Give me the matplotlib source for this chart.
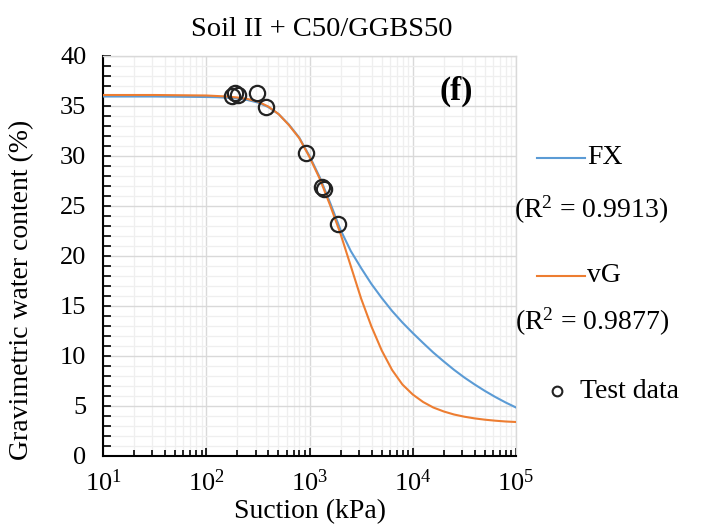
import matplotlib
matplotlib.use("Agg")
import matplotlib.pyplot as plt
from matplotlib.lines import Line2D
from matplotlib.ticker import LogLocator, MultipleLocator, NullFormatter

plt.rcParams['font.family'] = ['Liberation Serif', 'DejaVu Serif']
plt.rcParams['mathtext.fontset'] = 'custom'
plt.rcParams['mathtext.rm'] = 'Liberation Serif'
plt.rcParams['mathtext.it'] = 'Liberation Serif:italic'
plt.rcParams['mathtext.bf'] = 'Liberation Serif:bold'

# ---- data ----
title = "Soil II + C50/GGBS50"
xlabel = "Suction (kPa)"
ylabel = "Gravimetric water content (%)"

curve_suction = [10, 31.6, 100, 126, 158, 200, 251, 316, 398, 501, 631, 794,
                 1000, 1260, 1580, 2000, 2510, 3160, 3980, 5010, 6310, 7940,
                 10000, 12600, 15800, 20000, 25100, 31600, 39800, 50100,
                 63100, 79400, 100000]
vg_values = [36.1, 36.1, 36.05, 36.0, 35.95, 35.85, 35.7, 35.45, 34.95, 34.2,
             33.1, 31.8, 29.9, 27.7, 25.1, 22.2, 19.0, 15.75, 12.95, 10.55,
             8.6, 7.15, 6.15, 5.4, 4.85, 4.45, 4.15, 3.93, 3.76, 3.63, 3.53,
             3.45, 3.4]
fx_values = [35.95, 35.95, 35.9, 35.88, 35.83, 35.75, 35.6, 35.35, 34.9, 34.2,
             33.15, 31.85, 30.0, 27.85, 25.35, 22.6, 20.5, 18.8, 17.2, 15.8,
             14.5, 13.35, 12.3, 11.3, 10.35, 9.45, 8.62, 7.85, 7.15, 6.5,
             5.9, 5.35, 4.85]

test_suction = [179, 191, 205, 313, 383, 933, 1320, 1370, 1900]
test_water = [36.0, 36.3, 36.1, 36.3, 34.9, 30.3, 26.9, 26.7, 23.2]

fx_label = "FX"
fx_r2 = "(R$^{2}$ = 0.9913)"
vg_label = "vG"
vg_r2 = "(R$^{2}$ = 0.9877)"
test_label = "Test data"
panel_label = "(f)"

blue = "#5B9BD5"
orange = "#ED7D31"

W, H = 708, 527
fig = plt.figure(figsize=(W / 100, H / 100), dpi=100)

L, R, T, B = 103, 516, 56, 456
ax = fig.add_axes([L / W, 1 - B / H, (R - L) / W, (B - T) / H])

ax.set_xscale('log')
ax.set_xlim(10, 1e5)
ax.set_ylim(0, 40)

ax.plot(curve_suction, fx_values, color=blue, lw=1.5, zorder=3)
ax.plot(curve_suction, vg_values, color=orange, lw=1.5, zorder=4)
ax.plot(test_suction, test_water, linestyle='none', marker='o', ms=11,
        mfc='none', mec='#222222', mew=1.6, zorder=5)

# ticks & grid
ax.xaxis.set_major_locator(LogLocator(base=10, numticks=10))
ax.xaxis.set_minor_locator(LogLocator(base=10, subs=range(2, 10), numticks=20))
ax.xaxis.set_minor_formatter(NullFormatter())
ax.yaxis.set_major_locator(MultipleLocator(5))
ax.yaxis.set_minor_locator(MultipleLocator(1))

ax.grid(which='major', color='#d9d9d9', lw=1.0, zorder=0)
ax.grid(which='minor', color='#efefef', lw=0.9, zorder=0)
ax.set_axisbelow(True)

ax.tick_params(which='both', direction='in', colors='black', width=1.2,
               labelsize=19, top=False, right=False)
ax.tick_params(which='major', length=6, pad=10)
ax.tick_params(axis='y', which='minor', length=6)
ax.tick_params(axis='x', which='minor', length=4)
ax.tick_params(axis='y', which='major', pad=12)

for s in ['left', 'bottom']:
    ax.spines[s].set_color('black')
    ax.spines[s].set_linewidth(1.5)
for s in ['top', 'right']:
    ax.spines[s].set_color('#d9d9d9')
    ax.spines[s].set_linewidth(1.0)

ax.text(0.855, 0.9125, panel_label, transform=ax.transAxes, fontsize=24,
        fontweight='bold', ha='center', va='center')

# titles / labels
fig.text(322 / W, 1 - 30 / H, title, ha='center', va='center', fontsize=20.5)
fig.text(310 / W, 1 - 512 / H, xlabel, ha='center', va='center', fontsize=20)
fig.text(22 / W, 1 - 290 / H, ylabel, ha='center', va='center', fontsize=20,
         rotation=90)

# legend (drawn manually to the right of the plot)
def fx_(px):
    return px / W

def fy_(py):
    return 1 - py / H

fig.add_artist(Line2D([fx_(537), fx_(585)], [fy_(158), fy_(158)], color=blue, lw=1.5))
fig.text(fx_(587), fy_(158), fx_label, ha='left', va='center', fontsize=20)
fig.text(fx_(591), fy_(210), fx_r2, ha='center', va='center', fontsize=20)
fig.add_artist(Line2D([fx_(537), fx_(585)], [fy_(276), fy_(276)], color=orange, lw=1.5))
fig.text(fx_(587), fy_(276), vg_label, ha='left', va='center', fontsize=20)
fig.text(fx_(592), fy_(322), vg_r2, ha='center', va='center', fontsize=20)
fig.add_artist(Line2D([fx_(557)], [fy_(391)], marker='o', ms=7, mfc='none',
                      mec='#222222', mew=1.5, linestyle='none'))
fig.text(fx_(580), fy_(391), test_label, ha='left', va='center', fontsize=20)

fig.savefig("out.png", dpi=100)
